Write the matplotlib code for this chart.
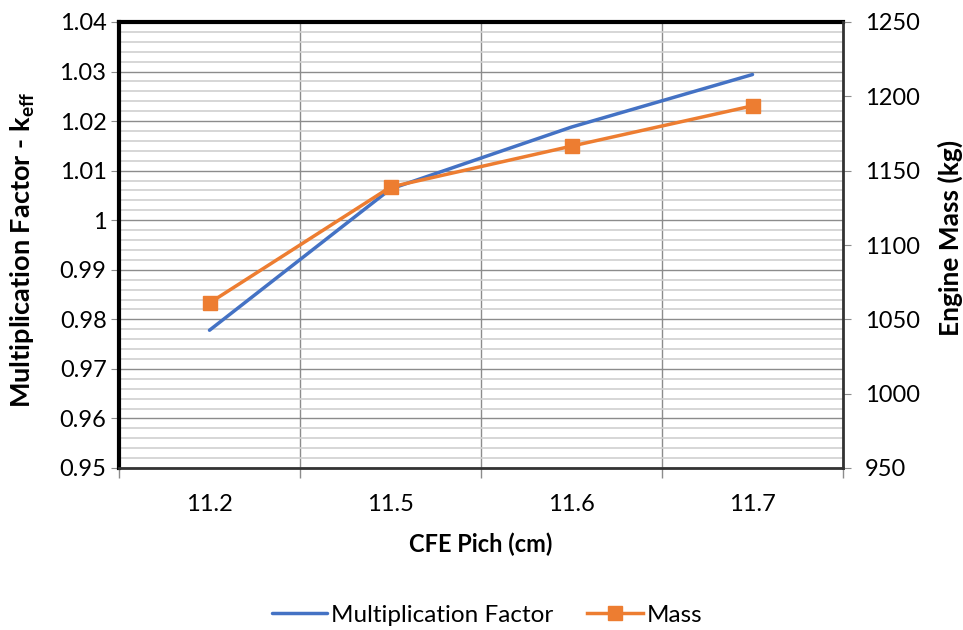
import matplotlib
matplotlib.use("Agg")
import matplotlib.pyplot as plt
import numpy as np

plt.rcParams['font.family'] = ['Lato', 'DejaVu Sans']
plt.rcParams['mathtext.fontset'] = 'custom'
plt.rcParams['mathtext.bf'] = 'Lato:bold'
plt.rcParams['mathtext.rm'] = 'Lato'

# Data
pitch_labels = ["11.2", "11.5", "11.6", "11.7"]
k_eff = [0.9778, 1.0063, 1.0188, 1.0294]
mass_kg = [1061, 1139, 1166.5, 1193.6]

blue = "#4472C4"
orange = "#ED7D31"

W, H = 963, 630
fig = plt.figure(figsize=(W / 100, H / 100), dpi=100)
L, R, T, B = 119, 843, 22, 468
ax = fig.add_axes([L / W, 1 - B / H, (R - L) / W, (B - T) / H])
ax2 = ax.twinx()

x = np.arange(len(pitch_labels))
ax.set_xlim(-0.5, len(pitch_labels) - 0.5)
ax.set_ylim(0.95, 1.04)
ax2.set_ylim(950, 1250)

# grid
ax.set_yticks(np.arange(0.95, 1.0401, 0.01))
ax.set_yticks(np.arange(0.95, 1.0401, 0.002), minor=True)
ax.grid(which='minor', axis='y', color='#D0D0D0', lw=1.2)
ax.grid(which='major', axis='y', color='#8C8C8C', lw=1.0)
ax.set_xticks(np.arange(-0.5, len(pitch_labels)), minor=True)
ax.set_xticks(x)
ax.set_xticklabels(pitch_labels)
ax.grid(which='minor', axis='x', color='#8C8C8C', lw=1.0)
ax.set_axisbelow(True)

ax.tick_params(axis='x', which='major', length=0, labelsize=17, pad=19)
ax.tick_params(axis='x', which='minor', length=7, color='#8C8C8C', width=1)
ax.tick_params(axis='y', which='major', length=6, color='#8C8C8C', labelsize=17, pad=3)
ax.tick_params(axis='y', which='minor', length=0)
ax.set_yticklabels(["0.95", "0.96", "0.97", "0.98", "0.99", "1", "1.01", "1.02", "1.03", "1.04"])

ax2.set_yticks(np.arange(950, 1251, 50))
ax2.tick_params(axis='y', length=6, color='#8C8C8C', labelsize=17, pad=10)

for a in (ax, ax2):
    for s in a.spines.values():
        s.set_visible(False)
ax.spines['top'].set_visible(True)
ax.spines['top'].set_linewidth(3)
ax.spines['left'].set_visible(True)
ax.spines['left'].set_linewidth(3)
ax.spines['bottom'].set_visible(True)
ax.spines['bottom'].set_linewidth(2)
ax.spines['bottom'].set_color('#333333')
ax2.spines['right'].set_visible(True)
ax2.spines['right'].set_linewidth(2)
ax2.spines['right'].set_color('#333333')

l1, = ax.plot(x, k_eff, color=blue, lw=2.5, solid_capstyle='round', label='Multiplication Factor')
l2, = ax2.plot(x, mass_kg, color=orange, lw=2.5, marker='s', markersize=10, label='Mass')

ax.set_xlabel("CFE Pich (cm)", fontsize=17, fontweight='bold')
ax.xaxis.set_label_coords(0.5, (B - 533) / (B - T))
ax.set_ylabel(r"Multiplication Factor - k$_\mathbf{eff}$", fontsize=19.5, fontweight='bold')
ax.yaxis.set_label_coords((37 - L) / (R - L), 0.49)
ax2.set_ylabel("Engine Mass (kg)", fontsize=19, fontweight='bold', rotation=90)
ax2.yaxis.set_label_coords((938 - L) / (R - L), 0.516)

fig.legend(handles=[l1, l2], loc='center', bbox_to_anchor=(487 / W, 1 - 615 / H),
           ncol=2, frameon=False, fontsize=17.5, handlelength=2.3, columnspacing=1.4,
           handletextpad=0.15)

fig.savefig("out.png", dpi=100)
